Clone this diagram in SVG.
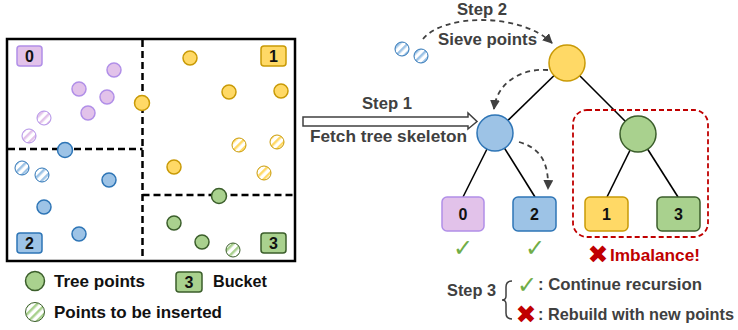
<svg xmlns="http://www.w3.org/2000/svg" width="738" height="330" viewBox="0 0 738 330">
<style>
text{font-family:"Liberation Sans",Arial,sans-serif;font-weight:bold}
.lg{font-size:16.5px;fill:#111}
.rt{font-size:16.5px;fill:#404040}
.bl{font-size:16px;fill:#111;text-anchor:middle}
.pu{fill:#E2C2EA;stroke:#B18FE8;stroke-width:1.5}
.ye{fill:#FFD966;stroke:#C99A06;stroke-width:1.5}
.bu{fill:#9DC3E6;stroke:#2E75B6;stroke-width:1.5}
.gr{fill:#A9D18E;stroke:#3B5E2B;stroke-width:1.5}
.hpu{fill:url(#hpu);stroke:#B18FE8;stroke-width:1}
.hye{fill:url(#hye);stroke:#C99A06;stroke-width:1}
.hbu{fill:url(#hbu);stroke:#2E75B6;stroke-width:1}
.hgr{fill:url(#hgr);stroke:#3B5E2B;stroke-width:1}
.div{fill:none;stroke:#000;stroke-width:2.5;stroke-dasharray:7 4}
.edge{fill:none;stroke:#000;stroke-width:1.6}
.darr{fill:none;stroke:#404040;stroke-width:1.8;stroke-dasharray:5 4;marker-end:url(#ah)}
.ok{font-family:"DejaVu Sans",sans-serif;font-weight:normal;fill:#70AD47}
.no{font-family:"DejaVu Sans",sans-serif;font-weight:normal;fill:#C00000}
</style>
<defs>
<pattern id="hpu" width="6" height="6" patternUnits="userSpaceOnUse" patternTransform="rotate(45)"><rect width="6" height="6" fill="#fff"/><rect width="2.5" height="6" fill="#E2C2EA"/></pattern>
<pattern id="hye" width="6" height="6" patternUnits="userSpaceOnUse" patternTransform="rotate(45)"><rect width="6" height="6" fill="#fff"/><rect width="2.5" height="6" fill="#FFD966"/></pattern>
<pattern id="hbu" width="6" height="6" patternUnits="userSpaceOnUse" patternTransform="rotate(45)"><rect width="6" height="6" fill="#fff"/><rect width="2.5" height="6" fill="#9DC3E6"/></pattern>
<pattern id="hgr" width="6" height="6" patternUnits="userSpaceOnUse" patternTransform="rotate(45)"><rect width="6" height="6" fill="#fff"/><rect width="2.5" height="6" fill="#A9D18E"/></pattern>
<marker id="ah" markerUnits="userSpaceOnUse" markerWidth="10" markerHeight="10" refX="9" refY="5" orient="auto"><path d="M0,0 L10,5 L0,10 z" fill="#404040"/></marker>
</defs>

<!-- left space partition panel -->
<g id="space">
<rect x="7" y="39" width="288" height="222" fill="#fff" stroke="#000" stroke-width="2.5"/>
<line class="div" x1="142.5" y1="40" x2="142.5" y2="260"/>
<line class="div" x1="8" y1="149" x2="142.5" y2="149"/>
<line class="div" x1="142.5" y1="195" x2="294" y2="195"/>
<rect class="pu" x="17" y="46" width="25" height="20" rx="3"/><text class="bl" x="29.5" y="62">0</text>
<rect class="ye" x="261" y="46" width="25" height="20" rx="3"/><text class="bl" x="273.5" y="62">1</text>
<rect class="bu" x="17" y="233" width="25" height="20" rx="3"/><text class="bl" x="29.5" y="249">2</text>
<rect class="gr" x="261" y="233" width="25" height="20" rx="3"/><text class="bl" x="273.5" y="249">3</text>
<circle class="pu" cx="114" cy="70" r="7"/>
<circle class="pu" cx="79" cy="89" r="7"/>
<circle class="pu" cx="107" cy="97" r="7"/>
<circle class="pu" cx="88" cy="113" r="7"/>
<circle class="hpu" cx="44" cy="118" r="7"/>
<circle class="hpu" cx="29" cy="136" r="7"/>
<circle class="ye" cx="142" cy="103" r="7.5"/>
<circle class="ye" cx="190" cy="58" r="7"/>
<circle class="ye" cx="229" cy="92" r="7"/>
<circle class="ye" cx="281" cy="91" r="7"/>
<circle class="ye" cx="174" cy="167" r="7"/>
<circle class="hye" cx="239" cy="145" r="7"/>
<circle class="hye" cx="277" cy="142" r="7"/>
<circle class="hye" cx="264" cy="173" r="7"/>
<circle class="bu" cx="65" cy="150" r="7.5"/>
<circle class="hbu" cx="22" cy="168" r="7"/>
<circle class="hbu" cx="42" cy="175" r="7"/>
<circle class="bu" cx="109" cy="180" r="7"/>
<circle class="bu" cx="44" cy="207" r="7"/>
<circle class="bu" cx="79" cy="234" r="7"/>
<circle class="gr" cx="219" cy="196" r="7.5"/>
<circle class="gr" cx="174" cy="223" r="7"/>
<circle class="gr" cx="202" cy="242" r="7"/>
<circle class="hgr" cx="233" cy="250" r="7"/>
</g>

<!-- legend -->
<g id="legend">
<circle class="gr" cx="35" cy="281" r="9.5"/>
<text class="lg" x="54" y="287" textLength="91" lengthAdjust="spacingAndGlyphs">Tree points</text>
<rect class="gr" x="176" y="272" width="26" height="20" rx="3"/><text class="bl" x="189" y="288">3</text>
<text class="lg" x="213" y="287" textLength="54" lengthAdjust="spacingAndGlyphs">Bucket</text>
<circle class="hgr" cx="35" cy="312" r="9.5"/>
<text class="lg" x="54" y="318" textLength="168" lengthAdjust="spacingAndGlyphs">Points to be inserted</text>
</g>

<!-- step 1 -->
<g id="step1">
<text class="rt" x="362" y="109" textLength="50" lengthAdjust="spacingAndGlyphs">Step 1</text>
<polygon points="303,117 468,117 468,113 477,121.5 468,129 468,126 303,126" fill="#fff" stroke="#404040" stroke-width="1.5"/>
<text class="rt" x="310" y="142" textLength="157" lengthAdjust="spacingAndGlyphs">Fetch tree skeleton</text>
</g>

<!-- step 2 -->
<g id="step2">
<text class="rt" x="457" y="15" textLength="50" lengthAdjust="spacingAndGlyphs">Step 2</text>
<text class="rt" x="438" y="45" textLength="99" lengthAdjust="spacingAndGlyphs">Sieve points</text>
<circle class="hbu" cx="402" cy="49" r="7"/>
<circle class="hbu" cx="421" cy="56" r="7"/>
</g>

<!-- connectors -->
<g id="connectors">
<line class="edge" x1="567" y1="63" x2="495" y2="133"/>
<line class="edge" x1="567" y1="63" x2="638" y2="134"/>
<line class="edge" x1="495" y1="133" x2="463" y2="197"/>
<line class="edge" x1="495" y1="133" x2="535" y2="197"/>
<line class="edge" x1="638" y1="134" x2="607" y2="197"/>
<line class="edge" x1="638" y1="134" x2="678" y2="197"/>
<path class="darr" d="M423 39 C443 14,520 12,552 43"/>
<path class="darr" d="M548 70 C522 68,497 82,494 109"/>
<path class="darr" d="M519 142 C540 148,549 162,548 189"/>
</g>

<!-- imbalance region -->
<g id="imbalance">
<rect x="573" y="110" width="135" height="127" rx="14" fill="none" stroke="#C00000" stroke-width="1.8" stroke-dasharray="5 3"/>
<text class="no" x="598" y="263" font-size="25" text-anchor="middle">✖</text>
<text x="610" y="261" font-size="16.5" fill="#C00000" textLength="90" lengthAdjust="spacingAndGlyphs">Imbalance!</text>
</g>

<!-- tree nodes -->
<g id="root"><circle class="ye" cx="567" cy="63" r="18"/></g>
<g id="nodeL"><circle class="bu" cx="495" cy="133" r="18"/></g>
<g id="nodeR"><circle class="gr" cx="638" cy="134" r="18"/></g>
<g id="bucket0"><rect class="pu" x="442" y="197" width="42" height="34" rx="5"/><text class="bl" x="463" y="220">0</text></g>
<g id="bucket2"><rect class="bu" x="513" y="197" width="43" height="34" rx="5"/><text class="bl" x="534.5" y="220">2</text></g>
<g id="bucket1"><rect class="ye" x="585" y="197" width="43" height="34" rx="5"/><text class="bl" x="606.5" y="220">1</text></g>
<g id="bucket3"><rect class="gr" x="657" y="197" width="43" height="34" rx="5"/><text class="bl" x="678.5" y="220">3</text></g>
<g id="checks">
<text class="ok" x="463" y="256" font-size="24" text-anchor="middle">✓</text>
<text class="ok" x="535" y="256" font-size="24" text-anchor="middle">✓</text>
</g>

<!-- step 3 -->
<g id="step3">
<text class="rt" x="447" y="296" textLength="49" lengthAdjust="spacingAndGlyphs">Step 3</text>
<path d="M512 281 Q506 281 506 287 L506 296 Q506 300 502 300 Q506 300 506 304 L506 313 Q506 319 512 319" fill="none" stroke="#404040" stroke-width="1.5"/>
<text class="ok" x="527" y="293" font-size="24" text-anchor="middle">✓</text>
<text class="rt" x="538" y="290" textLength="164" lengthAdjust="spacingAndGlyphs">: Continue recursion</text>
<text class="no" x="526" y="323" font-size="25" text-anchor="middle">✖</text>
<text class="rt" x="538" y="320" textLength="196" lengthAdjust="spacingAndGlyphs">: Rebuild with new points</text>
</g>
</svg>
